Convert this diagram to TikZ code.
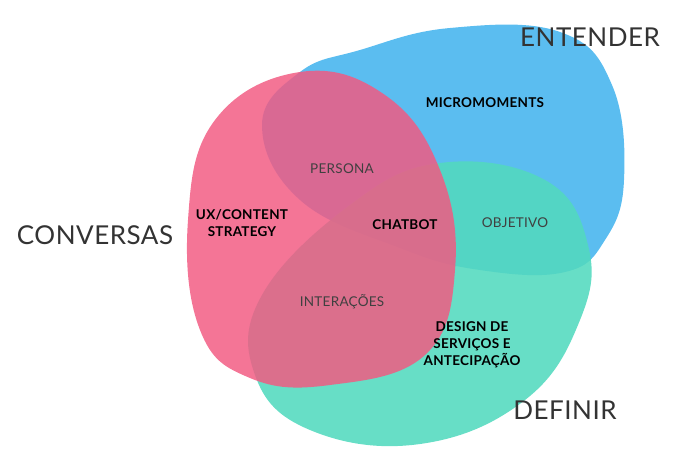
\documentclass[tikz,border=0pt]{standalone}
\usepackage{fontspec}
\setmainfont{Lato}
\begin{document}
\begin{tikzpicture}[x=1pt,y=-1pt,
  big/.style={font=\fontsize{26}{28}\selectfont\addfontfeature{LetterSpace=2}, text=black!80},
  inner/.style={font=\fontsize{13.5}{16}\selectfont\addfontfeature{LetterSpace=2}, text=black!75, align=center},
  bold/.style={font=\bfseries\fontsize{13.5}{17}\selectfont\addfontfeature{LetterSpace=2}, text=black, align=center}]
\useasboundingbox (0,0) rectangle (700,452);
\definecolor{cblue}{HTML}{5BBDF0}
\definecolor{cgreen}{HTML}{52D9BE}
\definecolor{cred}{HTML}{F25A82}
\fill[cblue] plot[smooth cycle,tension=0.7] coordinates {(300,72) (262,125) (300,200) (400,248) (480,270) (565,272) (605,240) (624,180) (612,85) (560,32) (450,28) (360,50)};
\fill[cgreen,opacity=0.88] plot[smooth cycle,tension=0.7] coordinates {(440,163) (350,205) (262,295) (255,375) (310,430) (420,444) (525,400) (580,320) (588,245) (545,180)};
\fill[cred,opacity=0.84] plot[smooth cycle,tension=0.7] coordinates {(300,72) (215,120) (188,220) (200,330) (250,378) (330,385) (425,355) (455,270) (440,170) (385,95)};
\node[big] (ent) at (590,37) {ENTENDER};
\node[big] (con) at (95,235) {CONVERSAS};
\node[big] (def) at (565,410) {DEFINIR};
\node[bold] (mic) at (485,103) {MICROMOMENTS};
\node[inner] (per) at (342,169) {PERSONA};
\node[bold] (ux) at (242,223) {UX/CONTENT\\STRATEGY};
\node[bold] (cha) at (405,225) {CHATBOT};
\node[inner] (obj) at (515,223) {OBJETIVO};
\node[inner] (int) at (342,302) {INTERAÇÕES};
\node[bold] (des) at (472,345) {DESIGN DE\\SERVIÇOS E\\ANTECIPAÇÃO};
\end{tikzpicture}
\end{document}
